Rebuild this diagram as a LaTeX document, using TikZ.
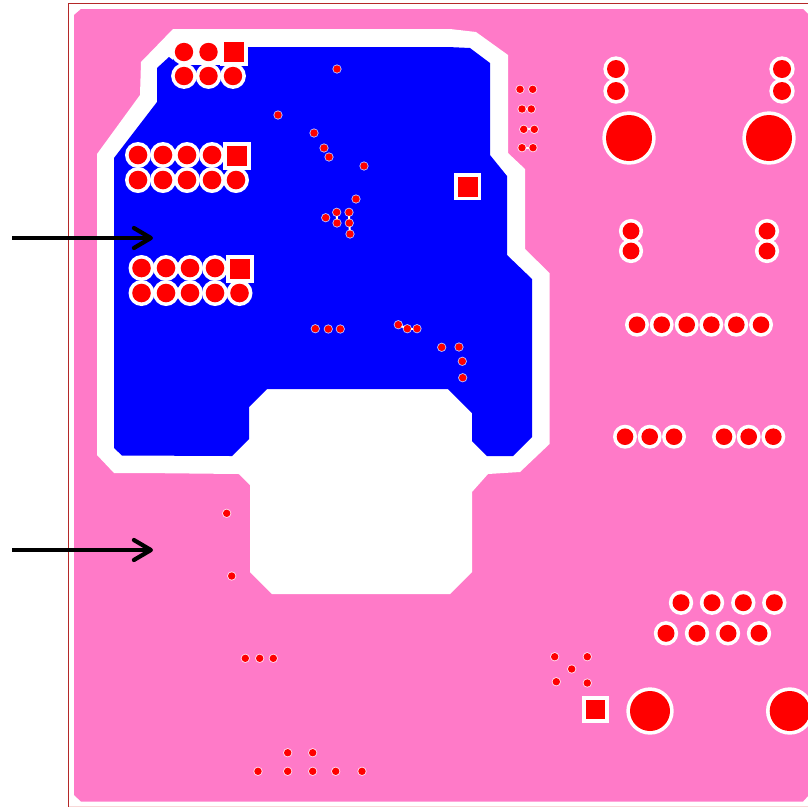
\documentclass[tikz,border=0pt]{standalone}
\usetikzlibrary{arrows.meta}
\definecolor{boardpink}{RGB}{255,122,200}
\definecolor{pourblue}{RGB}{0,0,255}
\definecolor{padred}{RGB}{255,0,0}
\definecolor{framered}{RGB}{180,40,40}
\definecolor{edgepale}{RGB}{248,215,215}
\tikzset{
  pourout/.style={fill=white,draw=none},
  pourin/.style={fill=pourblue,draw=none},
  boardfill/.style={fill=boardpink,draw=none},
  clear/.style={fill=white,draw=none},
  viahalo/.style={fill=white,fill opacity=0.75,draw=none},
  copper/.style={fill=padred,draw=none},
  pointer/.style={draw=black,line width=3.9pt,-{Straight Barb[length=17pt,width=20pt,round,line width=4.2pt]}},
}
% x,y,radius lists
\def\roundpads{184/52/9.2,208.5/52/9.2,184/76/9.2,208.5/76/9.2,233/76/9.2,
138/155/9.3,163/155/9.3,187/155/9.3,212/155/9.3,138/180/9.3,163/180/9.3,187/180/9.3,212/180/9.3,236/180/9.3,
141.5/268/9.3,166/268/9.3,190/268/9.3,215/268/9.3,141.5/293/9.3,166/293/9.3,190/293/9.3,215/293/9.3,239.5/293/9.3,
616/69/9,616/91/9,782/69/9,782/91/9,
631/231/8.4,631/251/8.4,767/231/8.4,767/251/8.4,
637/324.7/8.3,661.7/324.7/8.3,686.7/324.7/8.3,711.3/324.7/8.3,736.3/324.7/8.3,761/324.7/8.3,
625/436.7/8.3,649.7/436.7/8.3,674/436.7/8.3,724/436.7/8.3,748.7/436.7/8.3,773.3/436.7/8.3,
681/602.7/8.5,712/602.7/8.5,743.3/602.7/8.5,774.3/602.7/8.5,
666/633.3/8.5,697/633.3/8.5,728/633.3/8.5,759/633.3/8.5}
\def\bigpads{629/138/23,769/138/23,650/711/20,789.7/711/20}
\def\squarepads{233.5/52/10/14,236.5/155.5/10/14,240/268.5/10/14,467.5/186.5/10/13.5,595.3/709.7/9.7/13.3}
\def\vias{337/69,278/115,314/133,324/148,329/157,364/166,356/199,325.7/217.7,336.7/212.3,349/212.3,337/223,349.3/223,350/234,
315.3/328.7,328.3/329,340.3/329,398.3/324.7,407.3/328.7,417/328.7,441.7/347.3,459/347,462.3/361.3,462.7/377.7,
520/89.3,532.7/89.3,522/109,531.3/109,523.7/129.3,534.3/129.3,522/147.7,533/147.7,
226.7/513.3,231.7/576,245.3/658.3,259.7/658.3,273.3/658.3,287.7/752.7,312.7/752.7,
258/771.3,287.7/771.3,312.7/771.3,335.7/771.3,362/771.3,
554.7/656.7,587.3/656.7,571.7/669,556.3/681.7,587.3/683}
% pairs of close vias whose clearances merge
\def\viabridges{336.7/212.3/337/223,349/212.3/349.3/223,349.3/223/350/234,398.3/324.7/407.3/328.7,407.3/328.7/417/328.7,
522/109/531.3/109,523.7/129.3/534.3/129.3,522/147.7/533/147.7}
\begin{document}
\begin{tikzpicture}[x=1pt,y=-1pt]
\useasboundingbox (0,0) rectangle (808,807);
\clip (0,0) rectangle (808,807);
\fill[white] (0,0) rectangle (808,807);
% board outline and fill
\draw[edgepale,line width=1pt] (68.5,806.5) -- (820,806.5);
\draw[framered,line width=1pt] (820,3.5) -- (68.5,3.5) -- (68.5,806.5);
\path[boardfill] (81,9) -- (803,9) -- (808,14) -- (808,796) -- (803,801.5) -- (81,801.5) -- (74,795) -- (74,15) -- cycle;
% pour clearance
\path[pourout] (173,29) -- (450,29) -- (476,32) -- (508,55) -- (508,153) -- (525,169) -- (525,249) -- (549.5,273) -- (549.5,444)
  -- (520,472) -- (488,474) -- (472,492) -- (472,572) -- (450,594) -- (272,594) -- (250,572) -- (250,485) -- (239,474)
  -- (142,473) -- (114,473) -- (97,455) -- (97,154) -- (140,95) -- (141,62) -- cycle;
% pour
\path[pourin] (180,47) -- (448,47) -- (470,48) -- (490,63) -- (490,155) -- (507,176) -- (507,255) -- (532,279) -- (532,437)
  -- (513,456) -- (487,456) -- (472,441) -- (472,413) -- (448,389) -- (267,389) -- (249,407) -- (249,439) -- (232,456)
  -- (122,455.5) -- (114,448) -- (114,158) -- (157,102) -- (157,68) -- (169,57) -- (173,60) -- cycle;
\fill[white] (184,40) rectangle (247,65);
% clearances
\foreach \x/\y/\r in \roundpads {\path[clear] (\x,\y) circle ({\r+3.7});}
\foreach \x/\y/\r in \bigpads {\path[clear] (\x,\y) circle ({\r+3.7});}
\foreach \x/\y/\r/\c in \squarepads {\path[clear] ({\x-\c},{\y-\c}) rectangle ({\x+\c},{\y+\c});}
\foreach \x/\y in \vias {\path[viahalo] (\x,\y) circle (4.6);}
\foreach \xa/\ya/\xb/\yb in \viabridges {\draw[white,line width=2pt] (\xa,\ya) -- (\xb,\yb);}
% copper
\foreach \x/\y/\r in \roundpads {\path[copper] (\x,\y) circle (\r);}
\foreach \x/\y/\r in \bigpads {\path[copper] (\x,\y) circle (\r);}
\foreach \x/\y/\r/\c in \squarepads {\path[copper] ({\x-\r},{\y-\r}) rectangle ({\x+\r},{\y+\r});}
\foreach \x/\y in \vias {\path[copper] (\x,\y) circle (3.7);}
% arrows
\coordinate (a1s) at (12,238);
\coordinate (a1e) at (153,238);
\coordinate (a2s) at (12,550);
\coordinate (a2e) at (153,550);
\draw[pointer] (a1s) -- (a1e);
\draw[pointer] (a2s) -- (a2e);
\end{tikzpicture}
\end{document}
